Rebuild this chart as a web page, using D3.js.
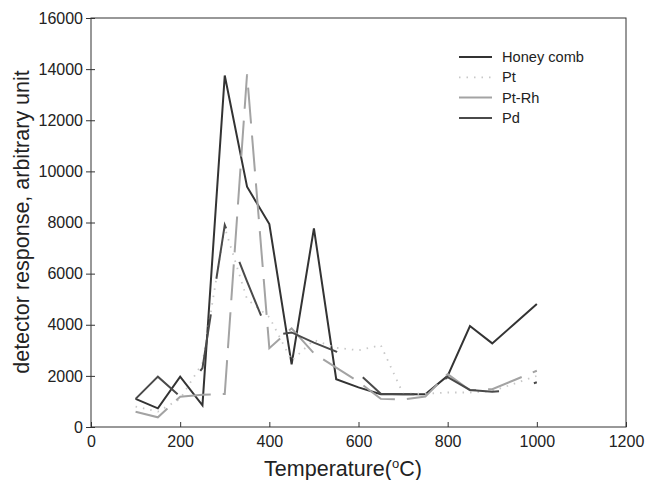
<!DOCTYPE html>
<html>
<head>
<meta charset="utf-8">
<script src="https://cdn.jsdelivr.net/npm/d3@7"></script>
<style>
  body { margin: 0; background: #fff; }
  svg text { font-family: "Liberation Sans", Arial, sans-serif; fill: #222; }
</style>
</head>
<body>
<svg id="chart" width="645" height="480"></svg>
<script>
// temperatures (°C) where each catalyst was measured
const temps = [100, 150, 200, 250, 300, 350, 400, 450, 500, 550, 600, 650, 700, 750, 800, 850, 900, 950, 1000];

// detector response, arbitrary unit
const honeyComb = [1100, 730, 1970, 850, 13750, 9400, 7940, 2450, 7770, 1870, 1550, 1280, 1280, 1280, 2000, 3950, 3270, 4040, 4810];
const pt = [800, 600, 1100, 2500, 7800, 5000, 4300, 2600, 3400, 3100, 3000, 3200, 1300, 1300, 1350, 1350, 1400, 1700, 2000];
const ptRh = [600, 380, 1185, 1260, 1290, 13800, 3080, 3860, 2880, 2320, 1770, 1100, 1080, 1190, 2070, 1440, 1480, 1840, 2200];
const pd = [1100, 1970, 1190, 2300, 7900, 5700, 3560, 3700, 3300, 2950, 2100, 1300, 1280, 1280, 1950, 1450, 1380, 1450, 1750];

const seriesNames = ['Honey comb', 'Pt', 'Pt-Rh', 'Pd'];
const xTicks = [0, 200, 400, 600, 800, 1000, 1200];
const yTicks = [0, 2000, 4000, 6000, 8000, 10000, 12000, 14000, 16000];

const series = [
  { name: seriesNames[0], values: honeyComb, color: '#333', dash: null, width: 2 },
  { name: seriesNames[1], values: pt, color: '#c8c8c8', dash: '1.5,6', width: 1.8 },
  { name: seriesNames[2], values: ptRh, color: '#a3a3a3', dash: '36,12', width: 2 },
  { name: seriesNames[3], values: pd, color: '#4a4a4a', dash: '58,36', width: 2 }
];

const svg = d3.select('svg#chart');
const mLeft = 91, mRight = 626, mTop = 18, mBottom = 427;

const x = d3.scaleLinear().domain([0, 1200]).range([mLeft, mRight]);
const y = d3.scaleLinear().domain([0, 16000]).range([mBottom, mTop]);

// frame
svg.append('rect')
  .attr('x', mLeft)
  .attr('y', mTop)
  .attr('width', mRight - mLeft)
  .attr('height', mBottom - mTop)
  .attr('fill', 'none')
  .attr('stroke', '#333')
  .attr('stroke-width', 1);

// x axis, ticks pointing in
const gx = svg.append('g')
  .attr('transform', `translate(0,${mBottom})`)
  .call(d3.axisBottom(x).tickValues(xTicks).tickFormat(d3.format('d')).tickSizeInner(-5).tickSizeOuter(0).tickPadding(9));
gx.select('.domain').remove();
gx.selectAll('line').attr('stroke', '#333');
gx.selectAll('text').attr('font-size', '16px').attr('fill', '#222');

// y axis
const gy = svg.append('g')
  .attr('transform', `translate(${mLeft},0)`)
  .call(d3.axisLeft(y).tickValues(yTicks).tickFormat(d3.format('d')).tickSizeInner(5).tickSizeOuter(0).tickPadding(3));
gy.select('.domain').remove();
gy.selectAll('line').attr('stroke', '#333').attr('x1', 4);
gy.selectAll('text').attr('font-size', '16px').attr('fill', '#222');

// lines
const line = d3.line()
  .x((d, i) => x(temps[i]))
  .y(d => y(d));

svg.selectAll('path.series')
  .data(series)
  .enter()
  .append('path')
  .attr('class', 'series')
  .attr('d', d => line(d.values))
  .attr('fill', 'none')
  .attr('stroke', d => d.color)
  .attr('stroke-width', d => d.width)
  .attr('stroke-dasharray', d => d.dash)
  .attr('stroke-linejoin', 'miter');

// legend
const legend = svg.append('g').attr('transform', 'translate(459,57)');
const rows = legend.selectAll('g')
  .data(series)
  .enter()
  .append('g')
  .attr('transform', (d, i) => `translate(0,${i * 20.3})`);
rows.append('line')
  .attr('x1', 0)
  .attr('x2', 33)
  .attr('stroke', d => d.color)
  .attr('stroke-width', d => d.width)
  .attr('stroke-dasharray', d => d.name === 'Pt' ? d.dash : null);
rows.append('text')
  .attr('x', 43)
  .attr('dy', '0.35em')
  .attr('font-size', '14.6px')
  .text(d => d.name);

// axis titles
const xt = svg.append('text')
  .attr('x', 343)
  .attr('y', 476)
  .attr('text-anchor', 'middle')
  .attr('font-size', '21.5px');
xt.append('tspan').text('Temperature(');
xt.append('tspan').attr('font-size', '13px').attr('dy', '-8').text('o');
xt.append('tspan').attr('dy', '8').text('C)');

svg.append('text')
  .attr('transform', 'translate(29,222) rotate(-90)')
  .attr('text-anchor', 'middle')
  .attr('font-size', '21.5px')
  .text('detector response, arbitrary unit');
</script>
</body>
</html>
